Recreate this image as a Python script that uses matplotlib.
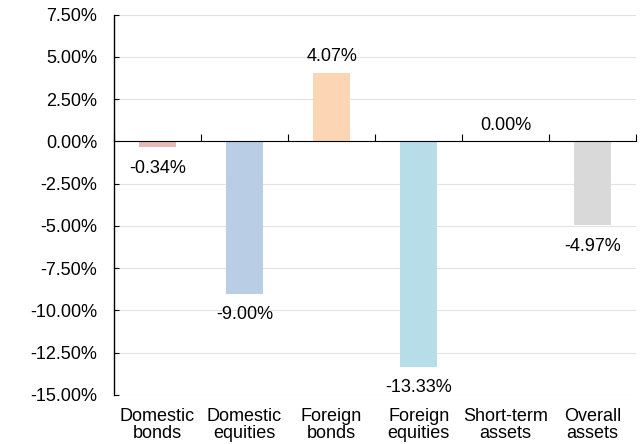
import numpy as np
import matplotlib.pyplot as plt
from matplotlib.ticker import FuncFormatter
import matplotlib.transforms as mtransforms

plt.rcParams['font.family'] = ['Liberation Sans', 'DejaVu Sans']

categories = ['Domestic\nbonds', 'Domestic\nequities', 'Foreign\nbonds',
              'Foreign\nequities', 'Short-term\nassets', 'Overall\nassets']
returns = [-0.34, -9.00, 4.07, -13.33, 0.00, -4.97]
colors = ['#E6B9B8', '#B9CDE5', '#FCD5B5', '#B7DEE8', '#FFFFFF', '#D9D9D9']

fig = plt.figure(figsize=(6.44, 4.44), dpi=100)
ax = fig.add_axes([0.177, 0.1104, 0.811, 0.8569])

x = np.arange(len(categories))
ax.bar(x, returns, width=0.42, color=colors, zorder=2)

ax.set_xlim(-0.5, len(categories) - 0.5)
ax.set_ylim(-15, 7.5)
ax.set_yticks(np.arange(-15, 7.6, 2.5))
ax.yaxis.set_major_formatter(FuncFormatter(lambda v, p: f'{v:.2f}%'))
ax.grid(axis='y', color='#E2E2E2', linewidth=0.8, zorder=0)

for s in ['top', 'right']:
    ax.spines[s].set_visible(False)
ax.spines['bottom'].set_position(('data', 0))
ax.spines['bottom'].set_zorder(3)
ax.spines['left'].set_linewidth(1.0)

ax.set_xticks(np.arange(len(categories) + 1) - 0.5)
ax.tick_params(axis='x', direction='in', length=5, labelbottom=False)
ax.tick_params(axis='y', direction='in', length=3.5, pad=12, labelsize=13)

# category labels below the plot area
trans = mtransforms.blended_transform_factory(ax.transData, ax.transAxes)
for xi, label in zip(x, categories):
    ax.text(xi, -0.033, label, transform=trans, ha='center', va='top',
            fontsize=13, linespacing=1.0)

# value labels
for xi, v in zip(x, returns):
    if v >= 0:
        ax.annotate(f'{v:.2f}%', (xi, v), xytext=(0, 8.4), textcoords='offset points',
                    ha='center', va='baseline', fontsize=13)
    else:
        ax.annotate(f'{v:.2f}%', (xi, v), xytext=(0, -9), textcoords='offset points',
                    ha='center', va='top', fontsize=13)

fig.savefig('out.png', dpi=100)
